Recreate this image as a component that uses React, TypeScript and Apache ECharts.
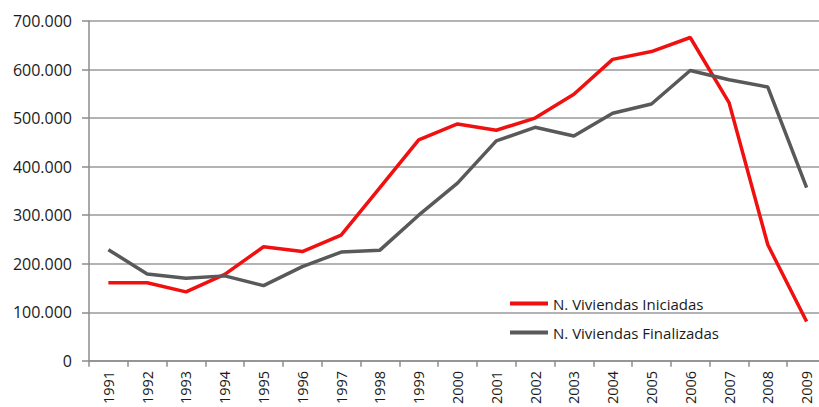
import React, { useEffect, useRef } from "react";
import * as echarts from "echarts";

const years = ["1991","1992","1993","1994","1995","1996","1997","1998","1999","2000","2001","2002","2003","2004","2005","2006","2007","2008","2009"];
const iniciadas = [161000,161000,142000,178000,235000,225000,259000,357000,455000,488000,475000,500000,549000,621000,637000,666000,532000,239000,81000];
const finalizadas = [229000,179000,170000,175000,155000,194000,224000,228000,300000,366000,453000,481000,463000,510000,529000,598000,579000,564000,357000];
const seriesNames = ["N. Viviendas Iniciadas", "N. Viviendas Finalizadas"];

const fmt = (v: number) => (v === 0 ? "0" : `${Math.round(v / 1000)}.000`);

export default function App() {
  const ref = useRef<HTMLDivElement>(null);
  useEffect(() => {
    if (!ref.current) return;
    const chart = echarts.init(ref.current, null, { renderer: "svg" });
    chart.setOption({
      animation: false,
      backgroundColor: "#ffffff",
      grid: { left: 89, top: 21, width: 737, height: 340, containLabel: false },
      legend: {
        orient: "vertical",
        left: 505,
        top: 291,
        icon: "rect",
        itemWidth: 38,
        itemHeight: 4,
        itemGap: 14,
        textStyle: { fontFamily: "Open Sans", fontSize: 15, color: "#1a1a1a" },
        data: seriesNames,
      },
      xAxis: {
        type: "category",
        data: years,
        boundaryGap: true,
        axisLine: { lineStyle: { color: "#8c8c8c", width: 1.5 } },
        axisTick: { show: true, length: 6, lineStyle: { color: "#8c8c8c", width: 1.5 } },
        axisLabel: { rotate: 90, margin: 10, fontFamily: "Open Sans", fontSize: 14.5, color: "#1a1a1a", interval: 0 },
      },
      yAxis: {
        type: "value",
        min: 0,
        max: 700000,
        interval: 100000,
        axisLine: { show: true, lineStyle: { color: "#8c8c8c", width: 1.5 } },
        axisTick: { show: true, length: 7, lineStyle: { color: "#8c8c8c", width: 1.5 } },
        splitLine: { lineStyle: { color: "#9a9a9a", width: 1.5 } },
        axisLabel: { formatter: fmt, margin: 17, fontFamily: "Open Sans", fontSize: 16, color: "#1a1a1a" },
      },
      series: [
        {
          name: seriesNames[0],
          type: "line",
          data: iniciadas,
          symbol: "none",
          lineStyle: { color: "#f01010", width: 3.5 },
          itemStyle: { color: "#f01010" },
        },
        {
          name: seriesNames[1],
          type: "line",
          data: finalizadas,
          symbol: "none",
          lineStyle: { color: "#595959", width: 3.5 },
          itemStyle: { color: "#595959" },
        },
      ],
    });
    return () => chart.dispose();
  }, []);
  return (
    <div style={{ position: "fixed", left: 0, top: 0, width: 819, height: 407, overflow: "hidden", background: "#fff" }}>
      <div ref={ref} style={{ width: 830, height: 407 }} />
    </div>
  );
}
